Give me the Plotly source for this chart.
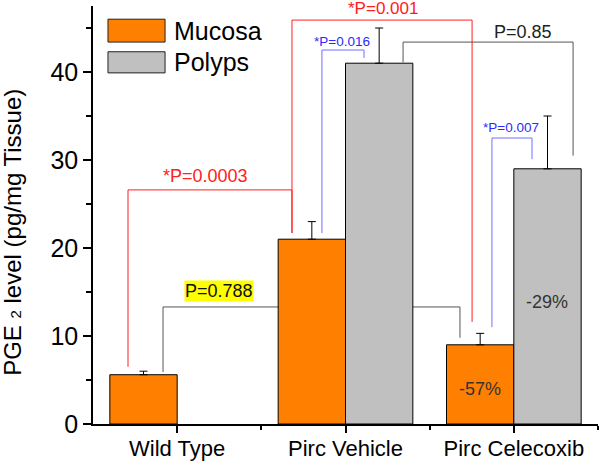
import plotly.graph_objects as go

# ---- data ----
categories = ["Wild Type", "Pirc Vehicle", "Pirc Celecoxib"]
series_names = ["Mucosa", "Polyps"]
mucosa_values = [5.6, 21.0, 9.0]
mucosa_errors = [0.4, 2.0, 1.3]
polyps_values = [None, 41.0, 29.0]
polyps_errors = [None, 4.0, 6.0]
pct_labels = ["-57%", "-29%"]
p_labels = ["*P=0.001", "*P=0.0003", "*P=0.016", "*P=0.007", "P=0.85", "P=0.788"]
y_ticks = [0, 10, 20, 30, 40]
y_title = "PGE <span style='font-size:15px'>2</span> level (pg/mg Tissue)"

FONT = "Arial, Liberation Sans, sans-serif"
ORANGE = "#FF8000"
GRAY = "#C0C0C0"

xs = list(range(len(categories)))

fig = go.Figure()
fig.add_trace(go.Bar(
    x=xs, y=mucosa_values, name=series_names[0],
    marker=dict(color=ORANGE, line=dict(color="black", width=1)),
    error_y=dict(type="data", array=mucosa_errors, arrayminus=[0]*3, symmetric=False,
                 color="black", thickness=1, width=4),
    showlegend=False,
))
fig.add_trace(go.Bar(
    x=xs, y=polyps_values, name=series_names[1],
    marker=dict(color=GRAY, line=dict(color="black", width=1)),
    error_y=dict(type="data", array=polyps_errors, arrayminus=[0]*3, symmetric=False,
                 color="black", thickness=1, width=4),
    showlegend=False,
))

shapes = []
annotations = []

def bracket(x1, y1, x2, y2, yh, color, layer="above"):
    shapes.append(dict(type="path", xref="x", yref="y",
                       path=f"M {x1},{y1} L {x1},{yh} L {x2},{yh} L {x2},{y2}",
                       line=dict(color=color, width=1), layer=layer))

def label(x, y, text, color, size, bg=None):
    a = dict(x=x, y=y, xref="x", yref="y", text=text, showarrow=False,
             font=dict(family=FONT, size=size, color=color),
             xanchor="center", yanchor="middle")
    if bg:
        a["bgcolor"] = bg
        a["borderpad"] = 0
    annotations.append(a)

RED = "#ff2020"
BLUE_LINE = "#7070ff"
BLUE_TXT = "#2a2aff"
DGRAY = "#555555"

# red brackets
bracket(0.682, 21.7, 1.752, 11.6, 45.9, RED)
label(1.22, 47.2, p_labels[0], RED, 17)
bracket(-0.292, 6.5, 0.682, 21.7, 26.6, RED)
label(0.171, 28.2, p_labels[1], RED, 18)
# blue brackets
bracket(0.860, 21.7, 1.110, 41.6, 42.5, BLUE_LINE)
label(0.979, 43.5, p_labels[2], BLUE_TXT, 13.5)
bracket(1.870, 11.0, 2.108, 30.1, 32.5, BLUE_LINE)
label(1.983, 33.75, p_labels[3], BLUE_TXT, 13.5)
# gray brackets
bracket(1.342, 41.1, 2.352, 30.5, 43.4, DGRAY)
label(2.052, 44.6, p_labels[4], "#222222", 18)
bracket(-0.084, 5.9, 1.680, 9.8, 13.3, DGRAY, layer="below")
label(0.249, 15.1, p_labels[5], "#111111", 18, bg="#ffff00")

# percent labels
label(1.799, 4.0, pct_labels[0], "#333333", 18)
label(2.197, 13.9, pct_labels[1], "#333333", 18)

# custom legend
for name, color, y0, y1 in [(series_names[0], ORANGE, 43.4, 46.0),
                            (series_names[1], GRAY, 39.9, 42.3)]:
    shapes.append(dict(type="rect", xref="x", yref="y", x0=-0.411, x1=-0.072, y0=y0, y1=y1,
                       fillcolor=color, line=dict(color="#222222", width=1)))
    annotations.append(dict(x=-0.03, y=(y0 + y1) / 2, xref="x", yref="y", text=name,
                            showarrow=False, xanchor="left", yanchor="middle",
                            font=dict(family=FONT, size=25, color="black")))

# y-axis title (placed slightly below the axis centre, as in the original)
annotations.append(dict(x=-0.161, y=0.459, xref="paper", yref="paper", text=y_title,
                        textangle=-90, showarrow=False, xanchor="center", yanchor="middle",
                        font=dict(family=FONT, size=24, color="black")))

fig.update_layout(
    width=600, height=461,
    margin=dict(l=93, r=2, t=6, b=37),
    paper_bgcolor="white", plot_bgcolor="white",
    barmode="group", bargap=0.2, bargroupgap=0,
    font=dict(family=FONT, color="black"),
    shapes=shapes, annotations=annotations,
    xaxis=dict(range=[-0.5, 2.5], tickmode="array", tickvals=xs, ticktext=categories,
               automargin=False, ticklabelstandoff=-3,
               ticks="outside", ticklen=7, tickwidth=1.5, tickcolor="black",
               showline=True, linecolor="black", linewidth=1.5, showgrid=False,
               zeroline=False, tickfont=dict(family=FONT, size=22, color="black"),
               minor=dict(tickmode="array", tickvals=[0.5, 1.5, 2.5], ticks="outside",
                          ticklen=4, tickwidth=1.5, tickcolor="black", showgrid=False)),
    yaxis=dict(range=[0, 47.5], tickmode="array", tickvals=y_ticks, automargin=False,
               ticks="outside", ticklen=8, tickwidth=1.5, tickcolor="black",
               showline=True, linecolor="black", linewidth=1.5, showgrid=False,
               zeroline=False, tickfont=dict(family=FONT, size=25, color="black"),
               minor=dict(dtick=5, tick0=0, ticks="outside", ticklen=5, tickwidth=1.5,
                          tickcolor="black", showgrid=False)),
)

fig.write_html("out.html", config={"displayModeBar": False},
               post_script="document.body.style.margin='0';document.body.style.overflow='hidden';")
